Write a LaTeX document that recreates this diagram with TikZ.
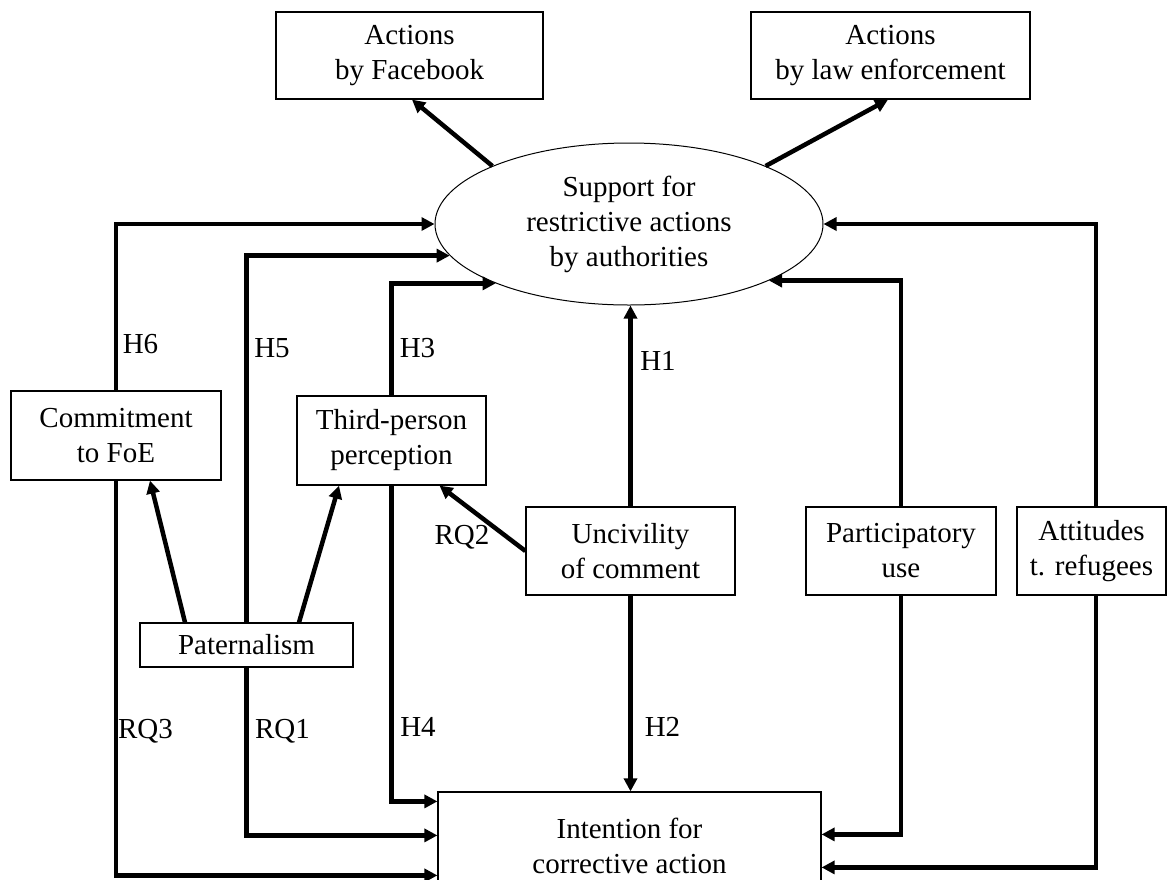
\documentclass[tikz,border=0pt]{standalone}
\usepackage{fontspec}
\setmainfont{Liberation Serif}
\usetikzlibrary{arrows.meta,shapes.geometric}
\begin{document}
\begin{tikzpicture}[x=1pt,y=-1pt,
  every node/.style={font=\fontsize{29}{35}\selectfont},
  box/.style={draw, line width=1.2pt, inner sep=0pt, align=center},
  ellbox/.style={draw, ellipse, line width=1pt, inner sep=0pt, align=center},
  arr/.style={line width=4.5pt, -{Triangle[length=13pt,width=13pt]}},
  lbl/.style={inner sep=0pt}
]
\useasboundingbox (0,0) rectangle (1169,879);
% nodes
\node[box, minimum width=267, minimum height=87] (fb) at (409.5,55.5) {Actions\\by Facebook};
\node[box, minimum width=279, minimum height=87] (law) at (890.5,55.5) {Actions\\by law enforcement};
\node[ellbox, minimum width=388, minimum height=162] (ell) at (629,224) {Support for\\restrictive actions\\by authorities};
\node[box, minimum width=210, minimum height=89] (com) at (116,435.5) {Commitment\\to FoE};
\node[box, minimum width=189, minimum height=89] (tpp) at (391.5,440.5) {Third-person\\perception};
\node[box, minimum width=209, minimum height=88] (unc) at (630.5,551) {Uncivility\\of comment};
\node[box, minimum width=190, minimum height=88] (par) at (901,551) {Participatory\\use};
\node[box, minimum width=149, minimum height=88] (att) at (1091.5,551) {Attitudes\\t. refugees};
\node[box, minimum width=213, minimum height=44] (pat) at (246.5,645) {Paternalism};
\node[box, minimum width=383, minimum height=108, text depth=0pt] (int) at (629.5,846) {Intention for\\corrective action};
% connectors
\draw[arr] (ell.157) -- ([xshift=2.5]fb.south);
\draw[arr] (ell.23) -- ([xshift=-2.5]law.south);
\draw[arr] (com.north) |- (ell.west);
\draw[arr] (pat.north) |- (ell.190);
\draw[arr] (tpp.north) |- (ell.204);
\draw[arr] (unc.north) -- (unc.north |- ell.south);
\draw[arr] (unc.south) -- (unc.south |- int.north);
\draw[arr] (unc.west) -- ([xshift=48]tpp.south);
\draw[arr] ([xshift=-61.5]pat.north) -- ([xshift=34]com.south);
\draw[arr] ([xshift=52.5]pat.north) -- ([xshift=-52.5]tpp.south);
\draw[arr] (tpp.south) |- ([yshift=-10]int.north west);
\draw[arr] (pat.south) |- ([yshift=-44]int.north west);
\draw[arr] (com.south) |- ([yshift=-84]int.north west);
\draw[arr] (par.north) |- (ell.338);
\draw[arr] (par.south) |- ([yshift=-43]int.north east);
\draw[arr] ([xshift=4.5]att.north) |- (ell.east);
\draw[arr] ([xshift=4.5]att.south) |- ([yshift=-76]int.north east);
% labels
\node[lbl] (lH6) at (140.5,344) {H6};
\node[lbl] (lH5) at (272,348) {H5};
\node[lbl] (lH3) at (417.5,348) {H3};
\node[lbl] (lH1) at (658,361) {H1};
\node[lbl] (lRQ2) at (462,537) {RQ2};
\node[lbl] (lH4) at (418,727) {H4};
\node[lbl] (lH2) at (662.5,727) {H2};
\node[lbl] (lRQ3) at (145.5,731) {RQ3};
\node[lbl] (lRQ1) at (282.5,731) {RQ1};
\end{tikzpicture}
\end{document}
